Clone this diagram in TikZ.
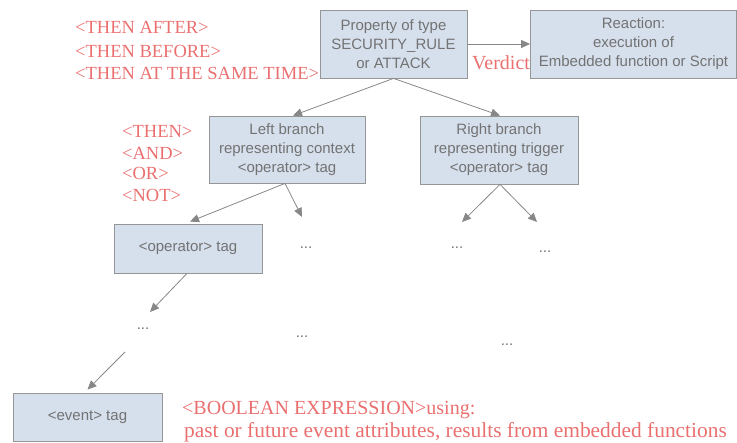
\documentclass[tikz,border=0pt]{standalone}
\usepackage{fontspec}
\setmainfont{Liberation Serif}
\setsansfont{Liberation Sans}
\usetikzlibrary{arrows.meta}
\definecolor{boxfill}{RGB}{214,223,236}
\definecolor{boxline}{RGB}{150,150,150}
\definecolor{boxtext}{RGB}{115,115,115}
\definecolor{redtext}{RGB}{234,112,112}
\definecolor{arrowgray}{RGB}{135,135,135}
\tikzset{
 box/.style={draw=boxline, fill=boxfill, line width=0.8pt, font=\sffamily\fontsize{15}{19}\selectfont, text=boxtext, align=center, inner sep=0pt},
 redlab/.style={text=redtext, font=\fontsize{18.5}{22}\selectfont, anchor=base west, inner sep=0pt},
 dotlab/.style={text=boxtext, font=\sffamily\fontsize{15}{19}\selectfont, anchor=base, inner sep=0pt},
 arr/.style={draw=arrowgray, line width=0.8pt, -{Triangle[length=9pt,width=8pt]}},
}
\begin{document}
\begin{tikzpicture}[x=1pt,y=-1pt]
\useasboundingbox (0,0) rectangle (737,443);
% boxes
\node[box, minimum width=147, minimum height=68] (prop) at (393.5,44) {Property of type\\SECURITY\_RULE\\or ATTACK};
\node[box, minimum width=206, minimum height=68] (react) at (633.5,44) {Reaction:\\execution of\\Embedded function or Script};
\node[box, minimum width=156, minimum height=67] (left) at (287,149.5) {Left branch\\representing context\\<operator> tag};
\node[box, minimum width=158, minimum height=68] (right) at (499,150) {Right branch\\representing trigger\\<operator> tag};
\node[box, minimum width=148, minimum height=49] (op) at (188,248.5) {<operator> tag};
\node[box, minimum width=149, minimum height=48] (ev) at (87.5,417) {<event> tag};
% dots
\node[dotlab] (d1) at (306,248.5) {...};
\node[dotlab] (d2) at (457,248.5) {...};
\node[dotlab] (d3) at (545,252.5) {...};
\node[dotlab] (d4) at (143,329.5) {...};
\node[dotlab] (d5) at (302,337.5) {...};
\node[dotlab] (d6) at (507,345.5) {...};
% free ends
\coordinate (c1) at (302,217);
\coordinate (c2) at (462,222);
\coordinate (c3) at (537,222);
\coordinate (c4) at (150,312);
\coordinate (s5) at (125,352);
% connectors
\draw[arr] (prop.east) -- (react.west);
\draw[arr] (prop.south) -- ([xshift=6pt]left.north);
\draw[arr] (prop.south) -- ([xshift=1pt]right.north);
\draw[arr] ([xshift=-2pt]left.south) -- ([xshift=2pt,yshift=2pt]op.north);
\draw[arr] ([xshift=-2pt]left.south) -- (c1);
\draw[arr] ([xshift=1pt]right.south) -- (c2);
\draw[arr] ([xshift=1pt]right.south) -- (c3);
\draw[arr] ([xshift=-1pt]op.south) -- (c4);
\draw[arr] (s5) -- ([yshift=3pt]ev.north);
% red labels
\node[redlab] (ta) at (75,34) {<THEN AFTER>};
\node[redlab] (tb) at (75,58) {<THEN BEFORE>};
\node[redlab] (tc) at (75,80) {<THEN AT THE SAME TIME>};
\node[redlab] (o1) at (122,138) {<THEN>};
\node[redlab] (o2) at (122,160) {<AND>};
\node[redlab] (o3) at (122,180) {<OR>};
\node[redlab] (o4) at (122,202) {<NOT>};
\node[redlab, font=\fontsize{20}{24}\selectfont] (verd) at (472,70) {Verdict};
\node[redlab, font=\fontsize{20}{24}\selectfont] (bool) at (182,415) {<BOOLEAN EXPRESSION>using:};
\node[redlab, font=\fontsize{21.4}{24}\selectfont] (past) at (184,437.5) {past or future event attributes, results from embedded functions};
\end{tikzpicture}
\end{document}
